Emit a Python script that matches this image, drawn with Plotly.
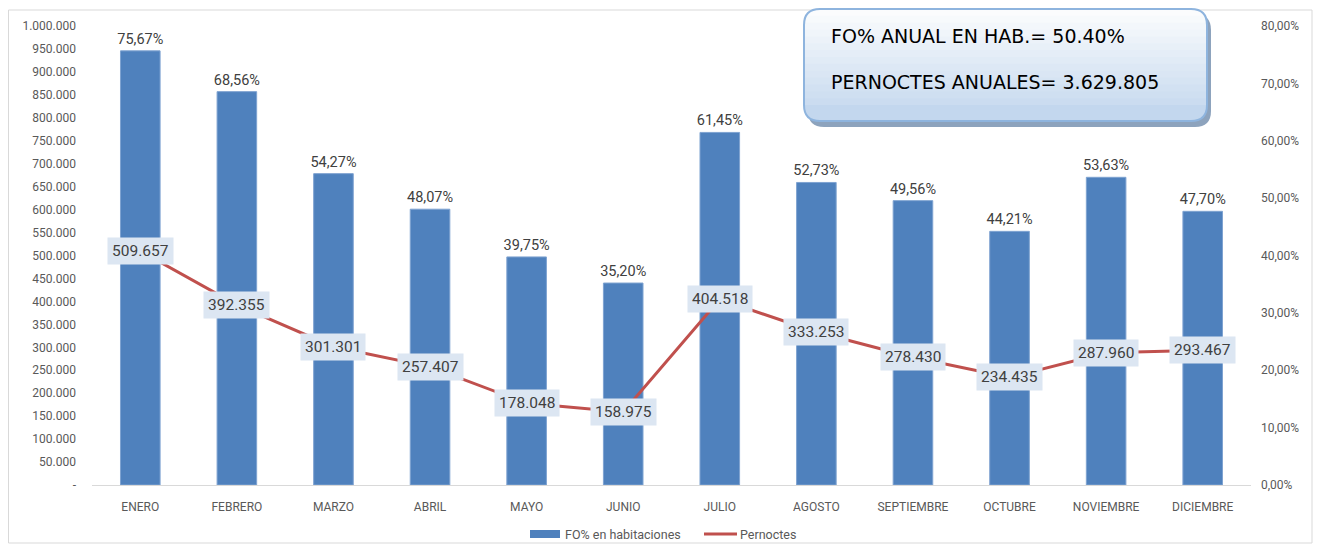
import plotly.graph_objects as go

meses = ["ENERO", "FEBRERO", "MARZO", "ABRIL", "MAYO", "JUNIO", "JULIO",
         "AGOSTO", "SEPTIEMBRE", "OCTUBRE", "NOVIEMBRE", "DICIEMBRE"]
fo_pct = [75.67, 68.56, 54.27, 48.07, 39.75, 35.20, 61.45, 52.73, 49.56, 44.21, 53.63, 47.70]
pernoctes = [509657, 392355, 301301, 257407, 178048, 158975, 404518, 333253,
             278430, 234435, 287960, 293467]
left_ticks = list(range(0, 1000001, 50000))
right_ticks = [i / 100 for i in range(0, 81, 10)]

OFF = 8  # page body margin
W, H = 1321 - 2 * OFF, 552 - 2 * OFF
L, R, T, B = 92, 1251, 26, 485  # plot area in reference (window) pixels


def px(x):
    return (x - L) / (R - L)


def py(y):
    return (B - y) / (B - T)


def fmt_miles(v):
    return f"{v:,}".replace(",", ".")


def fmt_pct(v):
    return f"{v:.2f}".replace(".", ",") + "%"


FONT = "Roboto"
GREY = "#595959"

fig = go.Figure()
fig.add_trace(go.Bar(
    x=meses, y=[v / 100 for v in fo_pct], name="FO% en habitaciones",
    marker=dict(color="#4F81BD", line=dict(color="#7FA3D1", width=1)),
    width=0.41, yaxis="y",
    text=[fmt_pct(v) for v in fo_pct], textposition="outside",
    constraintext="none",
    textfont=dict(size=14.5, color="#404040", family=FONT),
    cliponaxis=False, showlegend=False,
))
fig.add_trace(go.Scatter(
    x=meses, y=pernoctes, name="Pernoctes", mode="lines",
    line=dict(color="#C0504D", width=3), yaxis="y2", showlegend=False,
))

annotations = []
for m, v in zip(meses, pernoctes):
    annotations.append(dict(
        x=m, y=v, xref="x", yref="y2", text=fmt_miles(v), showarrow=False,
        bgcolor="#DCE6F2", borderpad=4,
        font=dict(size=15.5, color="#404040", family=FONT),
    ))

annotations.append(dict(
    x=px(829), y=py(36), xref="paper", yref="paper", xanchor="left", yanchor="middle",
    text="FO% ANUAL EN HAB.= 50.40%", showarrow=False,
    font=dict(size=19, color="#000000", family="DejaVu Sans"),
))
annotations.append(dict(
    x=px(829), y=py(82), xref="paper", yref="paper", xanchor="left", yanchor="middle",
    text="PERNOCTES ANUALES= 3.629.805", showarrow=False,
    font=dict(size=19, color="#000000", family="DejaVu Sans"),
))

# manual legend
annotations.append(dict(
    x=px(563), y=py(534), xref="paper", yref="paper", xanchor="left", yanchor="middle",
    text="FO% en habitaciones", showarrow=False, font=dict(size=12.5, color=GREY, family=FONT),
))
annotations.append(dict(
    x=px(738), y=py(534), xref="paper", yref="paper", xanchor="left", yanchor="middle",
    text="Pernoctes", showarrow=False, font=dict(size=12.5, color=GREY, family=FONT),
))


def rrect(x0, y0, x1, y1, r, round_bottom=True):
    X = px
    Y = py
    p = f"M {X(x0 + r)},{Y(y0)} L {X(x1 - r)},{Y(y0)} Q {X(x1)},{Y(y0)} {X(x1)},{Y(y0 + r)} "
    if round_bottom:
        p += (f"L {X(x1)},{Y(y1 - r)} Q {X(x1)},{Y(y1)} {X(x1 - r)},{Y(y1)} "
              f"L {X(x0 + r)},{Y(y1)} Q {X(x0)},{Y(y1)} {X(x0)},{Y(y1 - r)} ")
    else:
        p += f"L {X(x1)},{Y(y1)} L {X(x0)},{Y(y1)} "
    p += f"L {X(x0)},{Y(y0 + r)} Q {X(x0)},{Y(y0)} {X(x0 + r)},{Y(y0)} Z"
    return p


shapes = []
# outer chart border
shapes.append(dict(type="rect", xref="paper", yref="paper", x0=px(8.5), x1=px(1312), y0=py(10), y1=py(543),
                   line=dict(color="#D9D9D9", width=1), fillcolor="rgba(0,0,0,0)", layer="below"))
# legend symbols
shapes.append(dict(type="rect", xref="paper", yref="paper", x0=px(530), x1=px(560), y0=py(538), y1=py(530),
                   fillcolor="#4F81BD", line=dict(width=0)))
shapes.append(dict(type="line", xref="paper", yref="paper", x0=px(704), x1=px(737), y0=py(534), y1=py(534),
                   line=dict(color="#C0504D", width=3)))

# text box with shadow and vertical gradient
bx0, by0, bx1, by1, rad = 804, 9, 1207, 121, 16
shapes.append(dict(type="path", xref="paper", yref="paper", path=rrect(bx0 + 4, by0 + 5, bx1 + 4, by1 + 6, rad),
                   fillcolor="#8DA3BD", line=dict(width=0), layer="above"))
shapes.append(dict(type="path", xref="paper", yref="paper", path=rrect(bx0, by0, bx1, by1, rad),
                   fillcolor="#C3D7EE", line=dict(width=0), layer="above"))
nb = 14
c_top = (255, 255, 255)
c_bot = (195, 215, 238)
for i in range(nb):
    yb = by1 - rad - (by1 - rad - by0) * i / nb
    t = (yb - by0) / (by1 - by0)
    col = tuple(int(c_top[k] + (c_bot[k] - c_top[k]) * t) for k in range(3))
    shapes.append(dict(type="path", xref="paper", yref="paper",
                       path=rrect(bx0, by0, bx1, yb, rad, round_bottom=False),
                       fillcolor=f"rgb{col}", line=dict(width=0), layer="above"))
shapes.append(dict(type="path", xref="paper", yref="paper", path=rrect(bx0, by0, bx1, by1, rad),
                   fillcolor="rgba(0,0,0,0)", line=dict(color="#8EB4DE", width=2), layer="above"))

fig.update_layout(
    width=W, height=H,
    margin=dict(l=L - OFF, r=(1321 - OFF) - R, t=T - OFF, b=(552 - OFF) - B, autoexpand=False),
    paper_bgcolor="white", plot_bgcolor="white",
    font=dict(family=FONT, size=12, color=GREY),
    showlegend=False,
    xaxis=dict(showgrid=False, showline=True, linecolor="#D9D9D9", linewidth=1,
               tickfont=dict(size=12, color=GREY), ticks="", ticklabelstandoff=11),
    yaxis=dict(side="right", range=[0, 0.8], tickvals=right_ticks,
               ticktext=[fmt_pct(v * 100) for v in right_ticks], showgrid=False,
               zeroline=False, tickfont=dict(size=12, color=GREY), ticks="",
               ticklabelstandoff=9),
    yaxis2=dict(side="left", overlaying="y", range=[0, 1000000], tickvals=left_ticks,
                ticktext=["-" if v == 0 else fmt_miles(v) for v in left_ticks],
                showgrid=False, zeroline=False, tickfont=dict(size=12, color=GREY), ticks="",
                ticklabelstandoff=15),
    annotations=annotations,
    shapes=shapes,
)

fig.write_html("out.html")
